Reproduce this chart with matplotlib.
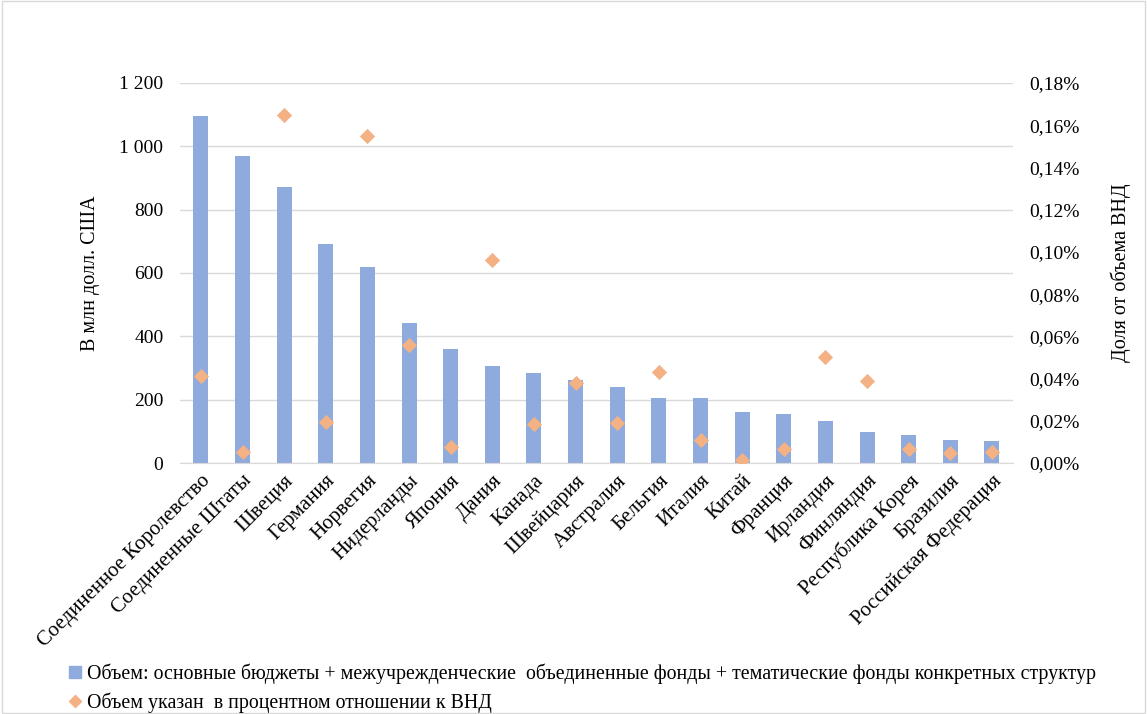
import numpy as np
import matplotlib.pyplot as plt
from matplotlib.lines import Line2D
from matplotlib.patches import Rectangle
from matplotlib.ticker import FuncFormatter

plt.rcParams['font.family'] = ['Liberation Serif', 'DejaVu Serif']

# Страны и значения
strany = ['Соединенное Королевство', 'Соединенные Штаты', 'Швеция', 'Германия',
          'Норвегия', 'Нидерланды', 'Япония', 'Дания', 'Канада', 'Швейцария',
          'Австралия', 'Бельгия', 'Италия', 'Китай', 'Франция', 'Ирландия',
          'Финляндия', 'Республика Корея', 'Бразилия', 'Российская Федерация']
obem = [1097, 968, 872, 692, 620, 441, 361, 305, 285, 261,
        241, 205, 205, 161, 154, 134, 98, 88, 73, 69]
dolya_vnd = [0.041, 0.0052, 0.165, 0.0196, 0.155, 0.056, 0.0076, 0.0963, 0.0183, 0.038,
             0.019, 0.043, 0.011, 0.0016, 0.0065, 0.050, 0.039, 0.0065, 0.0046, 0.0052]

legenda_bar = 'Объем: основные бюджеты + межучрежденческие  объединенные фонды + тематические фонды конкретных структур'
legenda_pt = 'Объем указан  в процентном отношении к ВНД'

bar_farbe = '#8FAADC'
pt_farbe = '#F4B183'

fig = plt.figure(figsize=(11.47, 7.14), dpi=100)
fig.patches.append(Rectangle((0.002, 0.002), 0.996, 0.996, transform=fig.transFigure,
                             fill=False, edgecolor='#D9D9D9', linewidth=1))

ax1 = fig.add_axes([0.157, 0.3515, 0.726, 0.5323])
x = np.arange(len(strany))
ax1.bar(x, obem, width=0.36, color=bar_farbe, zorder=2)
ax1.set_xlim(-0.5, len(strany) - 0.5)
ax1.set_ylim(0, 1200)
ax1.set_yticks(np.arange(0, 1201, 200))
ax1.yaxis.set_major_formatter(FuncFormatter(lambda v, p: f'{int(v):,}'.replace(',', ' ')))
ax1.grid(axis='y', color='#D9D9D9', linewidth=1, zorder=0)
ax1.set_axisbelow(True)
for s in ['top', 'right', 'left']:
    ax1.spines[s].set_visible(False)
ax1.spines['bottom'].set_color('#D9D9D9')
ax1.tick_params(length=0, labelsize=14, pad=12)
ax1.set_xticks(x)
ax1.set_xticklabels(strany, rotation=45, ha='right', rotation_mode='anchor', fontsize=15)
ax1.tick_params(axis='x', pad=6)
ax1.set_ylabel('В млн долл. США', fontsize=14.5, labelpad=14)

ax2 = ax1.twinx()
ax2.scatter(x, dolya_vnd, marker='D', s=60, color=pt_farbe, zorder=3, linewidths=0)
ax2.set_ylim(0, 0.18)
ax2.set_yticks(np.arange(0, 0.181, 0.02))
ax2.yaxis.set_major_formatter(FuncFormatter(lambda v, p: f'{v:.2f}%'.replace('.', ',')))
for s in ['top', 'right', 'left', 'bottom']:
    ax2.spines[s].set_visible(False)
ax2.tick_params(length=0, labelsize=14, pad=12)
ax2.set_ylabel('Доля от объема ВНД', fontsize=14.5, labelpad=22)

handles = [Line2D([], [], marker='s', linestyle='none', color=bar_farbe, markersize=8),
           Line2D([], [], marker='D', linestyle='none', color=pt_farbe, markersize=6)]
fig.legend(handles, [legenda_bar, legenda_pt], loc='lower left',
           bbox_to_anchor=(0.045, -0.024), frameon=False, fontsize=14.3,
           handlelength=0.6, handletextpad=0.3, labelspacing=0.45)

fig.savefig('out.png', dpi=100)
